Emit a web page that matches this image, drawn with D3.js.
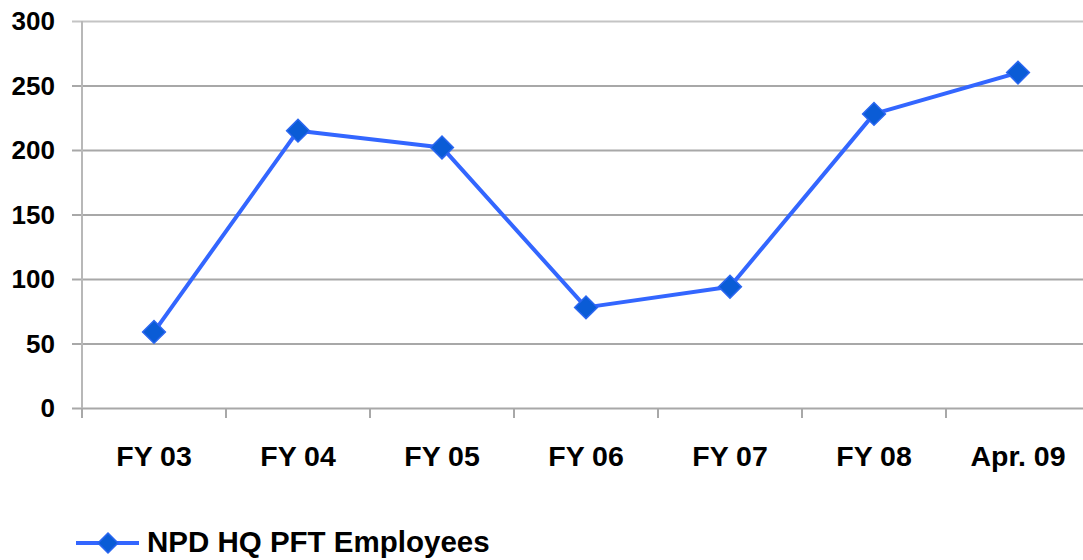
<!DOCTYPE html>
<html>
<head>
<meta charset="utf-8">
<script src="https://cdn.jsdelivr.net/npm/d3@7"></script>
<style>
  body { margin: 0; background: #fff; }
  svg { display: block; font-family: "Liberation Sans", Arial, sans-serif; font-weight: bold; }
</style>
</head>
<body>
<svg width="1083" height="560"></svg>
<script>
var categories = ["FY 03", "FY 04", "FY 05", "FY 06", "FY 07", "FY 08", "Apr. 09"];
var employees = [59, 215, 202, 78, 94, 228, 260];
var yTicks = [0, 50, 100, 150, 200, 250, 300];
var seriesName = "NPD HQ PFT Employees";

var svg = d3.select("svg"),
    width = +svg.attr("width"),
    height = +svg.attr("height");

// plot box (right side runs past the picture edge, as in the original)
var plotLeft = 82, plotTop = 21, plotW = 1008, plotH = 387;

var x = d3.scaleBand()
    .domain(categories)
    .range([plotLeft, plotLeft + plotW]);

var y = d3.scaleLinear()
    .domain([0, 300])
    .range([plotTop + plotH, plotTop]);

var lineColor = "#3366ff",
    markerColor = "#0a5cd6";

// gridlines
svg.append("g")
    .selectAll("line")
    .data(yTicks)
    .enter().append("line")
    .attr("x1", plotLeft - 10)
    .attr("x2", plotLeft + plotW)
    .attr("y1", function (d) { return y(d) + 0.5; })
    .attr("y2", function (d) { return y(d) + 0.5; })
    .attr("stroke", function (d) { return d == 300 ? "#c4c4c4" : "#a8a8a8"; })
    .attr("stroke-width", 2);

// y axis line
svg.append("line")
    .attr("x1", plotLeft).attr("x2", plotLeft)
    .attr("y1", plotTop).attr("y2", plotTop + plotH + 10)
    .attr("stroke", "#b8b8b8")
    .attr("stroke-width", 2);

// y labels
svg.append("g")
    .selectAll("text")
    .data(yTicks)
    .enter().append("text")
    .attr("x", 55)
    .attr("y", function (d) { return y(d); })
    .attr("dy", "0.36em")
    .attr("text-anchor", "end")
    .style("font-size", "26px")
    .text(function (d) { return d; });

// x category tick marks
var bounds = categories.map(function (c) { return x(c); }).concat([plotLeft + plotW]);
svg.append("g")
    .selectAll("line")
    .data(bounds)
    .enter().append("line")
    .attr("x1", function (d) { return d; })
    .attr("x2", function (d) { return d; })
    .attr("y1", plotTop + plotH)
    .attr("y2", plotTop + plotH + 10)
    .attr("stroke", "#a8a8a8")
    .attr("stroke-width", 2);

// x labels
svg.append("g")
    .selectAll("text")
    .data(categories)
    .enter().append("text")
    .attr("x", function (d) { return x(d) + x.bandwidth() / 2; })
    .attr("y", 466)
    .attr("text-anchor", "middle")
    .style("font-size", "28.5px")
    .text(function (d) { return d; });

var points = categories.map(function (c, i) {
    return { cat: c, value: employees[i] };
});

var line = d3.line()
    .x(function (d) { return x(d.cat) + x.bandwidth() / 2; })
    .y(function (d) { return y(d.value); });

svg.append("path")
    .datum(points)
    .attr("d", line)
    .attr("fill", "none")
    .attr("stroke", lineColor)
    .attr("stroke-width", 4)
    .attr("stroke-linejoin", "round");

var diamond = d3.symbol().type(d3.symbolSquare).size(260);

svg.append("g")
    .selectAll("path")
    .data(points)
    .enter().append("path")
    .attr("d", diamond)
    .attr("transform", function (d) {
        return "translate(" + (x(d.cat) + x.bandwidth() / 2) + "," + y(d.value) + ") rotate(45)";
    })
    .attr("fill", markerColor)
    .attr("stroke", "#2a66f0")
    .attr("stroke-width", 1.5);

// legend
var legend = svg.append("g");
legend.append("line")
    .attr("x1", 76).attr("x2", 139)
    .attr("y1", 543).attr("y2", 543)
    .attr("stroke", lineColor)
    .attr("stroke-width", 4);
legend.append("path")
    .attr("d", d3.symbol().type(d3.symbolSquare).size(200))
    .attr("transform", "translate(108,543) rotate(45)")
    .attr("fill", markerColor)
    .attr("stroke", "#2a66f0")
    .attr("stroke-width", 1.5);
legend.append("text")
    .attr("x", 147)
    .attr("y", 552)
    .style("font-size", "29.5px")
    .text(seriesName);
</script>
</body>
</html>
